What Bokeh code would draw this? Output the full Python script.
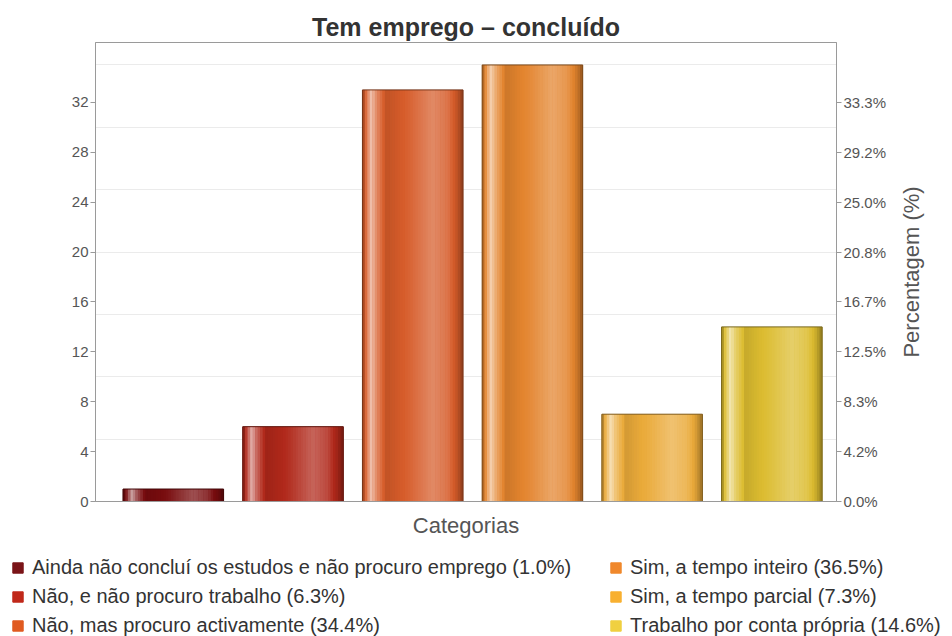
import math
from bokeh.plotting import figure
from bokeh.layouts import column, row
from bokeh.models import Range1d, LinearAxis, FixedTicker, Legend, LegendItem, ColumnDataSource
from bokeh.embed import file_html
from bokeh.resources import INLINE

# ---- data ----
categories = [
    "Ainda não concluí os estudos e não procuro emprego",
    "Não, e não procuro trabalho",
    "Não, mas procuro activamente",
    "Sim, a tempo inteiro",
    "Sim, a tempo parcial",
    "Trabalho por conta própria",
]
counts = [1, 6, 33, 35, 7, 14]
count_ticks = [0, 4, 8, 12, 16, 20, 24, 28, 32]
grid_values = [5, 10, 15, 20, 25, 30, 35]
bar_colors = ["#780c0e", "#b0281a", "#d65c2a", "#e3842e", "#eaaa3a", "#dcbc30"]
legend_colors = ["#7a1418", "#c0281a", "#e05a20", "#f0882c", "#f8b030", "#f0d040"]

total = sum(counts)

def pct(v):
    return f"{math.floor(v / total * 1000 + 0.5) / 10:.1f}%"

pct_labels = {t: pct(t) for t in count_ticks}
legend_labels = [f"{c} ({pct(v)})" for c, v in zip(categories, counts)]

FONT = "Liberation Sans"
TXT = "#555555"

# ---- shading helpers (style only) ----
def hex_to_rgb(h):
    h = h.lstrip("#")
    return [int(h[i:i + 2], 16) for i in (0, 2, 4)]

def shade(h, k):
    r = hex_to_rgb(h)
    if k >= 0:
        r = [c + (255 - c) * k for c in r]
    else:
        r = [c * (1 + k) for c in r]
    return "#%02x%02x%02x" % tuple(int(round(max(0, min(255, c)))) for c in r)

profile = [(0.0, -0.35), (0.04, 0.12), (0.09, 0.62), (0.14, 0.3), (0.24, -0.1),
           (0.45, 0.03), (0.70, 0.28), (0.85, 0.15), (0.95, -0.12), (1.0, -0.35)]

def prof(t):
    for (t0, k0), (t1, k1) in zip(profile[:-1], profile[1:]):
        if t0 <= t <= t1:
            return k0 + (k1 - k0) * (t - t0) / (t1 - t0)
    return profile[-1][1]

BW = 0.84
N = 40

p = figure(width=889, height=545, output_backend="svg", toolbar_location=None,
           x_range=Range1d(-0.65, 5.54), y_range=Range1d(0, 36.8),
           min_border_left=95, min_border_right=52, min_border_top=42, min_border_bottom=44,
           background_fill_color="white", border_fill_color="white")

# base bars
p.vbar(x=list(range(len(counts))), top=counts, width=BW, bottom=0,
       fill_color=bar_colors, line_color=None)

# cylindrical shading strips
xs, tops, cols = [], [], []
for i, (v, c) in enumerate(zip(counts, bar_colors)):
    for j in range(N):
        t = (j + 0.5) / N
        xs.append(i - BW / 2 + t * BW)
        tops.append(v)
        cols.append(shade(c, prof(t)))
src = ColumnDataSource(dict(x=xs, top=tops, color=cols))
p.vbar(x="x", top="top", bottom=0, width=BW / N * 1.15, fill_color="color", line_color=None, source=src)

# outline
p.vbar(x=list(range(len(counts))), top=counts, bottom=0, width=BW, fill_alpha=0,
       line_color=[shade(c, -0.45) for c in bar_colors], line_width=1)

# title
p.title.text = "Tem emprego – concluído"
p.title.align = "center"
p.title.text_font = FONT
p.title.text_font_size = "25px"
p.title.text_font_style = "bold"
p.title.text_color = "#333333"
p.title.standoff = 4

# axes
p.xaxis.ticker = FixedTicker(ticks=[])
p.xaxis.axis_label = "Categorias"
p.xaxis.axis_label_text_font = FONT
p.xaxis.axis_label_text_font_size = "22px"
p.xaxis.axis_label_text_font_style = "normal"
p.xaxis.axis_label_text_color = TXT
p.xaxis.axis_line_color = "#9a9a9a"
p.xaxis.axis_label_standoff = 11

p.yaxis.ticker = FixedTicker(ticks=count_ticks)
ly = p.yaxis[0]
ly.major_label_text_font = FONT
ly.major_label_text_font_size = "15px"
ly.major_label_text_color = TXT
ly.axis_line_color = "#9a9a9a"
ly.major_tick_line_color = "#9a9a9a"
ly.major_tick_out = 5
ly.major_tick_in = 0
ly.minor_tick_line_color = None
ly.major_label_standoff = 2

ry = LinearAxis(ticker=FixedTicker(ticks=count_ticks), major_label_overrides=pct_labels)
ry.major_label_text_font = FONT
ry.major_label_text_font_size = "15px"
ry.major_label_text_color = TXT
ry.axis_line_color = "#9a9a9a"
ry.major_tick_line_color = "#9a9a9a"
ry.major_tick_out = 5
ry.major_tick_in = 0
ry.minor_tick_line_color = None
ry.major_label_standoff = 2
p.add_layout(ry, "right")

p.xgrid.visible = False
p.ygrid.ticker = FixedTicker(ticks=grid_values)
p.ygrid.grid_line_color = "#ebebeb"
p.outline_line_color = "#9a9a9a"

# ---- right-hand axis title (reads bottom to top, centred on the plot area) ----
lab = figure(width=55, height=545, output_backend="svg", toolbar_location=None,
             x_axis_location=None, y_axis_location="left",
             x_range=Range1d(0, 1), y_range=Range1d(0, 36.8),
             min_border_left=34, min_border_right=0, min_border_top=42, min_border_bottom=44,
             outline_line_color=None, background_fill_color="white", border_fill_color="white")
lab.xgrid.visible = False
lab.ygrid.visible = False
la = lab.yaxis[0]
la.ticker = FixedTicker(ticks=[])
la.axis_line_color = None
la.major_tick_line_color = None
la.minor_tick_line_color = None
la.axis_label = "Percentagem (%)"
la.axis_label_text_font = FONT
la.axis_label_text_font_size = "22px"
la.axis_label_text_font_style = "normal"
la.axis_label_text_color = TXT
la.axis_label_standoff = 0

# ---- legend panel ----
lg = figure(width=944, height=91, output_backend="svg", toolbar_location=None,
            x_axis_location=None, y_axis_location=None,
            x_range=Range1d(0, 1), y_range=Range1d(0, 1),
            min_border=0, outline_line_color=None,
            background_fill_color="white", border_fill_color="white")
lg.xgrid.visible = False
lg.ygrid.visible = False
items = []
for i, (v, lc, lbl) in enumerate(zip(counts, legend_colors, legend_labels)):
    r = lg.vbar(x=[i], top=[v], width=BW, bottom=0, fill_color=lc, line_color=lc, visible=False)
    items.append(LegendItem(label=lbl, renderers=[r]))

legend = Legend(items=items, location="top_left", orientation="vertical", nrows=3,
                label_text_font=FONT, label_text_font_size="20px", label_text_color="#333333",
                glyph_width=13, glyph_height=13, label_height=22, label_width=571, label_standoff=8,
                spacing=6, padding=0, margin=11, border_line_color=None,
                background_fill_alpha=0, inactive_fill_alpha=0)
lg.add_layout(legend, "center")

layout = column(row(p, lab, spacing=0), row(lg), spacing=0)
open("out.html", "w").write(file_html(layout, INLINE))
